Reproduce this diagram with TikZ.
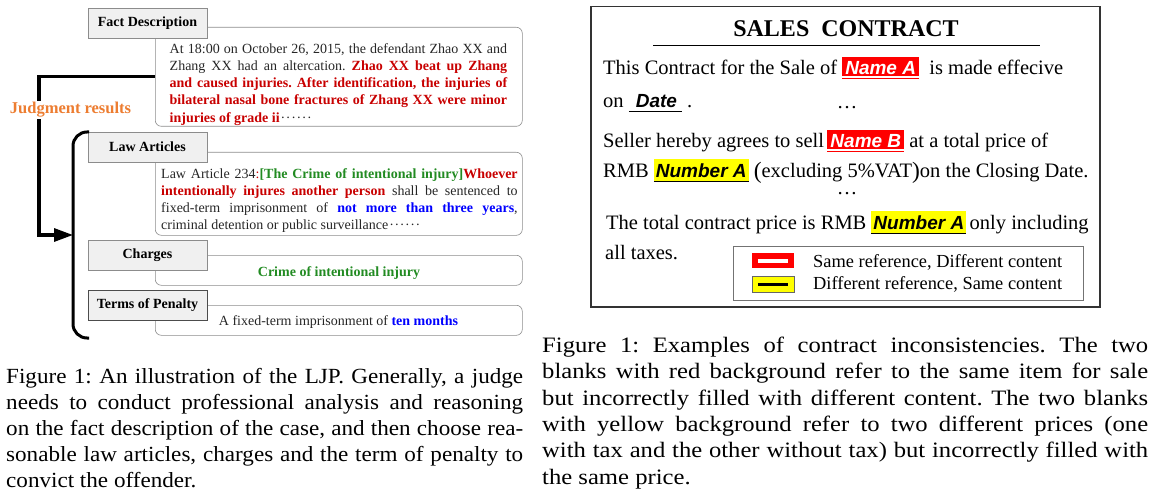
\documentclass[tikz,border=0pt]{standalone}
\usepackage{fontspec}
\setmainfont{Liberation Serif}
\setsansfont{Liberation Sans}
\newfontfamily\capleftfont{Liberation Serif}[FakeStretch=1.07]
\newfontfamily\caprightfont{Liberation Serif}[FakeStretch=1.12]
\usetikzlibrary{arrows.meta}
\frenchspacing

\definecolor{factred}{HTML}{C80000}
\definecolor{lawgreen}{HTML}{228B22}
\definecolor{lawblue}{HTML}{0000FF}
\definecolor{judgeorange}{HTML}{ED7D31}
\definecolor{headgray}{HTML}{F0F0F0}
\definecolor{framegray}{HTML}{8C8C8C}
\definecolor{blankred}{HTML}{FF0000}
\definecolor{blankyellow}{HTML}{FFFF00}

\newcommand{\fsize}[2]{\fontsize{#1}{#2}\selectfont}
\newcommand{\blankfont}{\fsize{19}{22}\sffamily\bfseries\itshape}
\newcommand{\middots}{\kern1pt·\kern0.6pt·\kern0.6pt·\kern0.6pt·\kern0.6pt·\kern0.6pt·}
\newsavebox{\blankbox}
% filled blanks of the contract
\newcommand{\redblank}[1]{\sbox{\blankbox}{\color{white}\hspace{3pt}\blankfont #1\hspace{3pt}}%
  {\setlength{\fboxsep}{0pt}\colorbox{blankred}{\color{white}\rule[-4.5pt]{0pt}{22.5pt}%
  \rlap{\usebox{\blankbox}}\rule[-2.6pt]{\wd\blankbox}{1.2pt}}}}
\newcommand{\yellowblank}[1]{\sbox{\blankbox}{\hspace{2pt}\blankfont #1\hspace{2pt}}%
  {\setlength{\fboxsep}{0pt}\colorbox{blankyellow}{\rule[-4.5pt]{0pt}{23pt}%
  \rlap{\usebox{\blankbox}}\rule[-4.5pt]{\wd\blankbox}{1.3pt}}}}
\newcommand{\dateblank}[1]{\sbox{\blankbox}{\hspace{7pt}\blankfont #1\hspace{5pt}}%
  \rlap{\usebox{\blankbox}}\rule[-3.5pt]{\wd\blankbox}{0.8pt}}

\begin{document}
\begin{tikzpicture}[x=1pt,y=-1pt,
  headbox/.style={draw=framegray, fill=headgray, line width=0.6pt, minimum width=119pt,
    minimum height=30pt, inner sep=0pt, font=\fsize{14}{16}\bfseries},
  textbox/.style={draw=framegray, rounded corners=6pt, line width=0.6pt, inner sep=0pt,
    minimum width=367pt, anchor=north west},
  bodytext/.style={inner sep=0pt, anchor=north west, align=justify, font=\fsize{14}{17.3}},
  judgeline/.style={line width=3.2pt},
  linetext/.style={inner sep=0pt, anchor=base west, font=\fsize{20.5}{24}},
  legendtext/.style={inner sep=0pt, anchor=base west, font=\fsize{18.4}{20}}]

\useasboundingbox (0,0) rectangle (1152,500);

% left figure: judgment
\node[textbox, minimum height=99pt] (factbox) at (155,27) {};
\node[textbox, minimum height=83pt] (lawbox) at (155,152) {};
\node[textbox, minimum height=30pt] (chargebox) at (155,255) {};
\node[textbox, minimum height=30pt] (termbox) at (155,305) {};

\node[headbox] (facthead) at (147.5,23) {Fact Description};
\node[headbox] (lawhead) at (147.5,147) {Law Articles};
\node[headbox] (chargehead) at (147.5,255) {Charges};
\node[headbox, draw=black!70] (termhead) at (147.5,305) {Terms of Penalty};

\node[bodytext, text width=337.5pt, text=black!85] (facttext) at (169.5,43)
  {At 18:00 on October 26, 2015, the defendant Zhao XX and\linebreak
   Zhang XX had an altercation. {\color{factred}\bfseries Zhao XX beat up Zhang\linebreak
   and caused injuries. After identification, the injuries of\linebreak
   bilateral nasal bone fractures of Zhang XX were minor\linebreak
   injuries of grade ii}\middots};
\node[bodytext, text width=356.5pt, text=black!85] (lawtext) at (161,168)
  {Law Article 234{\color{factred}:}{\color{lawgreen}\bfseries[The Crime of intentional injury]}{\color{factred}\bfseries Whoever\linebreak
   intentionally injures another person} shall be sentenced to\linebreak
   fixed-term imprisonment of {\color{lawblue}\bfseries not more than three years},\linebreak
   criminal detention or public surveillance\middots};
\node[inner sep=0pt, anchor=base, font=\fsize{14}{16}\bfseries, text=lawgreen] (chargetext) at (339,276.5)
  {Crime of intentional injury};
\node[inner sep=0pt, anchor=base, font=\fsize{14}{16}, text=black!85] (termtext) at (338.5,325)
  {A fixed-term imprisonment of {\color{lawblue}\bfseries ten months}};

% bracket and connector
\coordinate (brace) at (73,235);
\coordinate (bend) at (39,235);
\draw[line width=3pt, rounded corners=14pt] (89,132) -- (73,132) -- (73,338) -- (89,338);
\draw[judgeline, -{Triangle[length=19pt,width=13pt]}] (factbox.west) -| (bend) -- (brace);
\node[fill=white, inner sep=1pt, font=\fsize{16.5}{18}\bfseries, text=judgeorange] (judge) at (70.5,110)
  {Judgment results};

% right figure: contract
\node[draw=black!80, line width=1.5pt, minimum width=509pt, minimum height=300pt,
  inner sep=0pt, anchor=north west] (contract) at (590,6) {};
\node[inner sep=0pt, anchor=base, font=\fsize{24}{26}\bfseries] (title) at (846,37) {SALES\ \ CONTRACT};
\draw[line width=0.8pt] (653,45) -- (1040,45);

\node[linetext] (line1) at (603,75) {This Contract for the Sale of \redblank{Name A}\ \ is made effecive};
\node[linetext] (line2) at (603,108) {on \dateblank{Date}\ .};
\node[linetext, anchor=base] (dots1) at (847,108.5) {…};
\node[linetext] (line3) at (603,148) {Seller hereby agrees to sell\,\redblank{Name B}\ at a total price of};
\node[linetext] (line4) at (603,178) {RMB \yellowblank{Number A}\ {\fsize{23.5}{24}\raisebox{-0.5pt}{(}}excluding 5\%VAT{\fsize{23.5}{24}\raisebox{-0.5pt}{)}}on the Closing Date.};
\node[linetext, anchor=base] (dots2) at (847,195) {…};
\node[linetext] (line5) at (606,229.5) {The total contract price is RMB \yellowblank{Number A}\,only including};
\node[linetext] (line6) at (605,259.5) {all taxes.};

% legend
\node[draw=black!55, line width=0.8pt, minimum width=350pt, minimum height=54pt,
  inner sep=0pt, anchor=north west] (legend) at (733,246) {};
\fill[blankred] (752,253) rectangle (794,268);
\fill[white] (758,259) rectangle (788,262.5);
\draw[fill=blankyellow, draw=black!60, line width=0.6pt] (752,276) rectangle (794,292);
\fill[black] (758,282.5) rectangle (788,285.5);
\node[legendtext] (samebox) at (813,267.6) {Same reference, Different content};
\node[legendtext] (diffbox) at (813,289.6) {Different reference, Same content};

% captions
\node[inner sep=0pt, anchor=north west, text width=517pt, align=justify,
  font=\capleftfont\fsize{21.6}{26}] (capleft) at (6,368.5)
  {Figure 1: An illustration of the LJP. Generally, a judge\linebreak
   needs to conduct professional analysis and reasoning\linebreak
   on the fact description of the case, and then choose rea-\linebreak
   sonable law articles, charges and the term of penalty to\linebreak
   convict the offender.};
\node[inner sep=0pt, anchor=north west, text width=606pt, align=justify,
  font=\caprightfont\fsize{22}{26.3}] (capright) at (542,337)
  {Figure 1: Examples of contract inconsistencies. The two\linebreak
   blanks with red background refer to the same item for sale\linebreak
   but incorrectly filled with different content. The two blanks\linebreak
   with yellow background refer to two different prices (one\linebreak
   with tax and the other without tax) but incorrectly filled with\linebreak
   the same price.};

\end{tikzpicture}
\end{document}
